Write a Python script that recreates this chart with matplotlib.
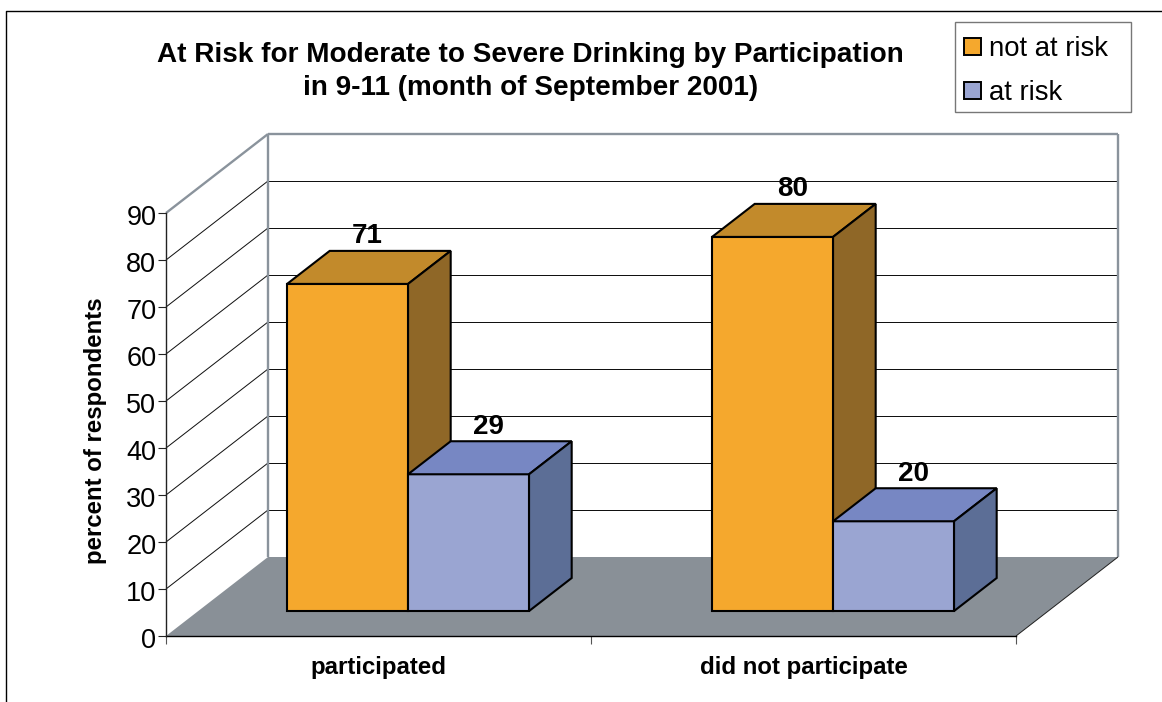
import matplotlib
matplotlib.use("Agg")
import matplotlib.pyplot as plt
from matplotlib.patches import Polygon, Rectangle, Patch
from matplotlib.lines import Line2D
from matplotlib.transforms import ScaledTranslation

plt.rcParams['font.family'] = ['Liberation Sans', 'DejaVu Sans']

# ---- data ----
categories = ["participated", "did not participate"]
series_names = ["not at risk", "at risk"]
not_at_risk_labels = [71, 80]
at_risk_labels = [29, 20]
not_at_risk_heights = [69.6, 79.6]
at_risk_heights = [29.1, 19.1]
y_ticks = [0, 10, 20, 30, 40, 50, 60, 70, 80, 90]
title = "At Risk for Moderate to Severe Drinking by Participation\nin 9-11 (month of September 2001)"
y_label = "percent of respondents"

# ---- styles ----
W, H = 1162, 702
ORANGE = ("#F5A82D", "#C28A2B", "#8F6727")
BLUE = ("#9AA5D2", "#7787C3", "#5C6E96")
FLOOR = "#899097"
WALL = "#8A939C"
LW1 = 0.72
LW2 = 1.5

fig = plt.figure(figsize=(W / 100, H / 100), dpi=100, facecolor="white")
ax = fig.add_axes([166 / W, (H - 636) / H, 850 / W, 423 / H])
ax.set_xlim(0, 2)
ax.set_ylim(0, 90)
ax.patch.set_visible(False)

# oblique depth: one full depth step in data units
DU = 102 / 425
DV = 79 / 4.7


def proj(u, v, d):
    return (u + DU * d, v + DV * d)


def poly(points, color, z, edge="none", lw=0):
    ax.add_patch(Polygon(points, closed=True, facecolor=color, edgecolor=edge, linewidth=lw,
                         zorder=z, clip_on=False, joinstyle="miter"))


def line(p, q, color, lw, z):
    ax.add_line(Line2D([p[0], q[0]], [p[1], q[1]], color=color, lw=lw, zorder=z, clip_on=False,
                       solid_capstyle="butt"))


# floor
poly([proj(0, 0, 0), proj(2, 0, 0), proj(2, 0, 1), proj(0, 0, 1)], FLOOR, 1)
line(proj(2, 0, 0), proj(2, 0, 1), "#222222", LW1, 2)

# gridlines
for t in y_ticks[1:-1]:
    line(proj(0, t, 0), proj(0, t, 1), "#111111", LW1, 1)
    line(proj(0, t, 1), proj(2, t, 1), "#111111", LW1, 1)

# wall outline
top = y_ticks[-1]
line(proj(0, top, 0), proj(0, top, 1), WALL, 1.7, 1.5)
line(proj(0, top, 1), proj(2, top, 1), WALL, 1.7, 1.5)
line(proj(0, 0, 1), proj(0, top, 1), WALL, 1.7, 1.5)
line(proj(2, 0, 1), proj(2, top, 1), WALL, 1.7, 1.5)

# bars
D0, D1 = 0.316, 0.734
U0, BW = 0.209, 0.2847


def box(u, h, colors, z):
    u2 = u + BW
    poly([proj(u, 0, D0), proj(u2, 0, D0), proj(u2, h, D0), proj(u, h, D0)], colors[0], z, "black", LW2)
    poly([proj(u, h, D0), proj(u2, h, D0), proj(u2, h, D1), proj(u, h, D1)], colors[1], z, "black", LW2)
    poly([proj(u2, 0, D0), proj(u2, 0, D1), proj(u2, h, D1), proj(u2, h, D0)], colors[2], z, "black", LW2)


for i in range(len(categories)):
    groups = [(U0, not_at_risk_heights[i], not_at_risk_labels[i], ORANGE),
              (U0 + BW, at_risk_heights[i], at_risk_labels[i], BLUE)]
    for j, (off, h, lab, col) in enumerate(groups):
        box(i + off, h, col, 3 + i + 0.1 * j)
        x, y = proj(i + off + BW / 2, h, (D0 + D1) / 2)
        ax.annotate(str(lab), (x, y), xytext=(-1, 22.5), textcoords="offset points", ha="center", va="center",
                    fontsize=20, fontweight="bold", color="black", zorder=10, annotation_clip=False)

# axes
for s in ("top", "right"):
    ax.spines[s].set_visible(False)
ax.spines["left"].set(color="#222222", linewidth=1.0, bounds=(0, 90))
ax.spines["bottom"].set(color="black", linewidth=1.0, zorder=2)
ax.set_yticks(y_ticks)
ax.tick_params(axis="y", length=5.5, width=0.8, color="#222222", labelsize=19.5, pad=1.5)
for lab in ax.get_yticklabels():
    lab.set_transform(lab.get_transform() + ScaledTranslation(0, -2 / 100, fig.dpi_scale_trans))
ax.set_xticks([0, 1, 2])
ax.set_xticklabels([])
ax.tick_params(axis="x", which="major", length=5.5, width=0.8, color="#555555")
ax.set_xticks([0.5, 1.5], minor=True)
ax.set_xticklabels(categories, minor=True, fontsize=17.3, fontweight="bold")
ax.tick_params(axis="x", which="minor", length=0, pad=14.5)
ax.set_ylabel(y_label, fontsize=17.3, fontweight="bold")
ax.yaxis.set_label_coords((107 - 166) / 850, (636 - 431) / 423)

# chart frame
fig.add_artist(Line2D([6 / W, 6 / W, 1], [0, 1 - 11 / H, 1 - 11 / H], color="black", lw=1.0, transform=fig.transFigure))

# title
fig.text(530.5 / W, 1 - 71.5 / H, title, ha="center", va="center", fontsize=20.1, fontweight="bold", linespacing=1.31)

# legend
fig.add_artist(Rectangle((954.5 / W, 1 - 112 / H), 176.5 / W, 90 / H, transform=fig.transFigure,
                         facecolor="white", edgecolor="#777777", lw=1.0))
handles = [Patch(facecolor=c[0], edgecolor="black", lw=1.4) for c in (ORANGE, BLUE)]
leg = fig.legend(handles, series_names, loc="upper left", bbox_to_anchor=(964 / W, 1 - 36 / H),
                 frameon=False, fontsize=19.8, borderpad=0, borderaxespad=0, handlelength=0.6,
                 handleheight=0.6, handletextpad=0.3, labelspacing=0.66)

fig.savefig("out.png", dpi=100)
